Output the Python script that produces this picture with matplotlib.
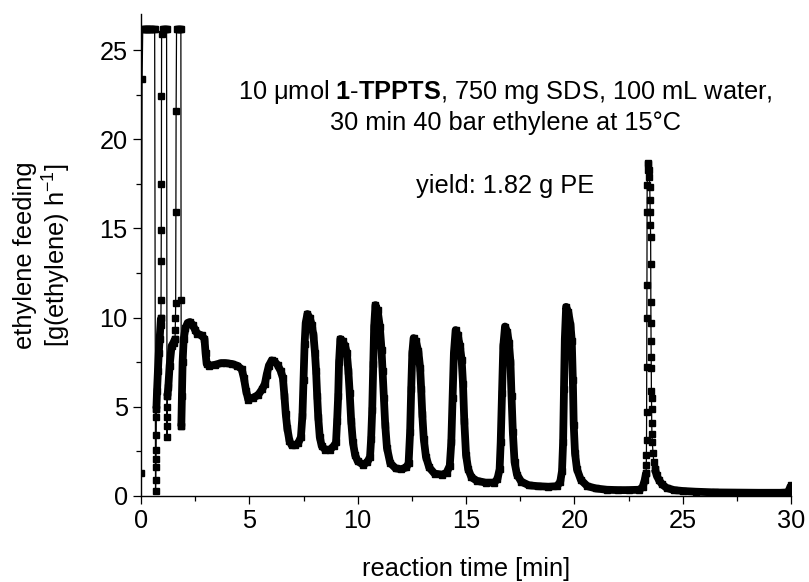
import numpy as np
import matplotlib
matplotlib.use("Agg")
import matplotlib.pyplot as plt
from matplotlib.ticker import MultipleLocator

plt.rcParams['font.family'] = ['Liberation Sans', 'DejaVu Sans']
plt.rcParams['mathtext.fontset'] = 'custom'
plt.rcParams['mathtext.rm'] = 'Liberation Sans'
plt.rcParams['mathtext.it'] = 'Liberation Sans:italic'
plt.rcParams['mathtext.bf'] = 'Liberation Sans:bold'

# ---------------- data (reaction time [min], ethylene feeding [g h^-1]) ----------------
# start-up spikes (saturated flow meter), sparse samples
spike1_t = [0.00, 0.05, 0.08, 0.13, 0.18, 0.23, 0.28, 0.33, 0.38, 0.43, 0.48, 0.53, 0.58, 0.63,
            0.67, 0.68, 0.685, 0.69, 0.695, 0.70, 0.705, 0.71]
spike1_y = [1.3, 23.4, 26.2, 26.2, 26.2, 26.2, 26.2, 26.2, 26.2, 26.2, 26.2, 26.2, 26.2, 26.2,
            0.3, 0.9, 1.6, 2.1, 2.6, 3.4, 4.4, 4.9]
rise1_t = [0.71, 0.74, 0.78, 0.82, 0.86, 0.90, 0.92]
rise1_y = [4.9, 5.9, 7.0, 8.0, 8.8, 9.6, 10.0]
spike2_t = [0.92, 0.925, 0.93, 0.935, 0.94, 0.945, 0.95, 1.00, 1.05, 1.10, 1.15, 1.18,
            1.20, 1.205, 1.21, 1.215, 1.22]
spike2_y = [10.0, 11.0, 13.2, 14.9, 17.5, 22.4, 25.9, 26.2, 26.2, 26.2, 26.2, 26.2,
            3.3, 3.9, 4.4, 5.0, 5.6]
rise2_t = [1.22, 1.26, 1.32, 1.41, 1.50, 1.57]
rise2_y = [5.6, 6.1, 7.3, 8.4, 8.6, 8.8]
spike3_t = [1.57, 1.58, 1.59, 1.60, 1.61, 1.62, 1.64, 1.69, 1.74, 1.79, 1.84, 1.85, 1.86]
spike3_y = [8.8, 9.3, 10.0, 10.8, 15.9, 21.6, 26.2, 26.2, 26.2, 26.2, 26.2, 11.0, 3.9]

# main feeding trace
trace_t = [1.86, 1.89, 1.92, 1.97, 2.05, 2.15, 2.26, 2.38, 2.50, 2.60, 2.80, 2.93, 2.98, 3.03,
           3.15, 3.40, 3.70, 3.90, 4.20, 4.45, 4.65, 4.75, 4.85, 4.95, 5.15, 5.40, 5.60, 5.72,
           5.80, 5.90, 6.03, 6.15, 6.30, 6.45, 6.55, 6.62, 6.68, 6.75, 6.85, 6.95, 7.10, 7.25,
           7.38, 7.45, 7.50, 7.55, 7.60, 7.68, 7.78, 7.88, 7.96, 8.03, 8.08, 8.13, 8.18, 8.25,
           8.34, 8.50, 8.72, 8.90, 9.00, 9.05, 9.10, 9.14, 9.20, 9.30, 9.42, 9.50, 9.57, 9.63,
           9.70, 9.78, 9.88, 10.00, 10.25, 10.45, 10.57, 10.62, 10.67, 10.72, 10.76, 10.82,
           10.92, 11.02, 11.10, 11.15, 11.21, 11.27, 11.35, 11.50, 11.75, 12.00, 12.25, 12.35,
           12.42, 12.47, 12.52, 12.58, 12.68, 12.80, 12.88, 12.93, 12.98, 13.05, 13.15, 13.30,
           13.55, 13.90, 14.10, 14.25, 14.32, 14.38, 14.44, 14.52, 14.62, 14.72, 14.80, 14.86,
           14.92, 15.00, 15.10, 15.25, 15.50, 15.90, 16.30, 16.45, 16.55, 16.60, 16.66, 16.72,
           16.80, 16.90, 16.98, 17.05, 17.10, 17.16, 17.24, 17.35, 17.55, 17.90, 18.30, 18.80,
           19.20, 19.35, 19.43, 19.48, 19.52, 19.56, 19.62, 19.72, 19.82, 19.88, 19.93, 19.97,
           20.03, 20.12, 20.30, 20.60, 21.00, 21.50, 22.00, 22.50, 23.00, 23.15, 23.25, 23.31]
trace_y = [3.9, 5.6, 7.5, 8.8, 9.4, 9.7, 9.75, 9.6, 9.3, 9.1, 9.0, 8.8, 8.0, 7.4,
           7.3, 7.35, 7.45, 7.45, 7.4, 7.3, 7.1, 6.6, 5.9, 5.4, 5.5, 5.65, 6.0, 6.3,
           6.8, 7.3, 7.6, 7.55, 7.35, 7.0, 6.6, 5.6, 4.6, 3.8, 3.1, 2.85, 2.85, 2.95,
           3.3, 4.5, 6.5, 8.5, 9.7, 10.2, 10.0, 9.6, 9.0, 8.0, 7.0, 5.6, 4.4, 3.3,
           2.8, 2.6, 2.6, 2.8, 3.0, 4.2, 5.6, 7.5, 8.8, 8.7, 8.4, 8.0, 7.0, 5.8,
           4.2, 3.0, 2.3, 1.95, 1.75, 1.9, 2.2, 3.2, 4.8, 7.4, 9.5, 10.7,
           10.4, 9.5, 8.2, 7.0, 5.5, 4.0, 2.7, 1.85, 1.55, 1.5, 1.6, 1.85,
           3.6, 6.0, 8.0, 8.85, 8.7, 8.1, 7.2, 6.0, 4.6, 3.2, 2.2, 1.6,
           1.25, 1.2, 1.3, 1.7, 3.0, 5.5, 8.0, 9.3, 9.0, 8.4, 7.6, 6.3,
           4.2, 2.3, 1.5, 1.05, 0.85, 0.75, 0.75, 0.95, 1.5, 3.0, 5.8, 8.4,
           9.5, 9.2, 8.6, 7.5, 5.6, 3.6, 1.9, 1.2, 0.8, 0.6, 0.55, 0.52,
           0.55, 0.8, 1.4, 3.0, 6.0, 8.8, 10.6, 10.3, 9.6, 8.7, 6.5, 4.0,
           2.4, 1.5, 0.9, 0.55, 0.42, 0.35, 0.33, 0.33, 0.35, 0.5, 0.9, 1.3]

# last sharp feeding peak (sparse samples)
peak_t = [23.31, 23.32, 23.325, 23.33, 23.335, 23.34, 23.345, 23.35, 23.355, 23.36,
          23.38, 23.40, 23.42, 23.44, 23.46, 23.48, 23.49, 23.50, 23.51,
          23.52, 23.525, 23.53, 23.535, 23.54, 23.545, 23.55, 23.555, 23.56, 23.565, 23.57,
          23.58, 23.60, 23.63, 23.67, 23.72]
peak_y = [1.3, 1.74, 2.3, 3.14, 4.73, 7.25, 9.96, 11.83, 15.94, 17.43,
          18.3, 18.65, 18.6, 18.3, 17.9, 17.3, 16.6, 15.9, 15.2,
          14.5, 13.0, 10.9, 9.7, 8.7, 7.8, 7.15, 5.9, 5.5, 4.9, 4.1,
          3.5, 3.0, 2.4, 1.9, 1.5]

# tail after the last peak
tail_t = [23.72, 23.80, 23.90, 24.05, 24.26, 24.60, 25.00, 25.60, 26.50, 27.50, 28.50,
          29.50, 29.85, 29.95, 30.00]
tail_y = [1.5, 1.15, 0.9, 0.65, 0.45, 0.33, 0.28, 0.24, 0.2, 0.19, 0.18,
          0.18, 0.2, 0.45, 0.6]

x_ticks = [0, 5, 10, 15, 20, 25, 30]
y_ticks = [0, 5, 10, 15, 20, 25]

# ---------------- figure ----------------
fig = plt.figure(figsize=(8.09, 5.82), dpi=100)
ax = fig.add_axes([0.1743, 0.1478, 0.8035, 0.8282])

thin = dict(color='black', lw=0.9, marker='s', ms=4.2, mec='black', mfc='black')
thick = dict(color='black', lw=5.6, marker='s', ms=4.6, mec='black', mfc='black',
             solid_joinstyle='round', solid_capstyle='butt')

for tt, yy in [(spike1_t, spike1_y), (spike2_t, spike2_y), (spike3_t, spike3_y), (peak_t, peak_y)]:
    ax.plot(tt, yy, **thin)
for tt, yy in [(rise1_t, rise1_y), (rise2_t, rise2_y), (trace_t, trace_y), (tail_t, tail_y)]:
    ax.plot(tt, yy, **thick)

ax.set_xlim(0, 30)
ax.set_ylim(0, 27.02)
ax.set_xticks(x_ticks)
ax.set_yticks(y_ticks)
ax.xaxis.set_minor_locator(MultipleLocator(2.5))
ax.yaxis.set_minor_locator(MultipleLocator(2.5))

for s in ['top', 'right']:
    ax.spines[s].set_visible(False)
for s in ['left', 'bottom']:
    ax.spines[s].set_linewidth(1.0)

ax.tick_params(which='major', direction='out', length=6, width=0.9, labelsize=18.3, pad=3.5)
ax.tick_params(which='minor', direction='out', length=3.8, width=0.9)

ax.set_xlabel('reaction time [min]', fontsize=18.3, labelpad=17)
ax.set_ylabel('ethylene feeding\n[g(ethylene) h$^{\\mathregular{-1}}$]', fontsize=18.3,
              labelpad=19, linespacing=1.15)

ax.text(16.8, 22.65, '10 \u03bcmol $\\mathbf{1}$-$\\mathbf{TPPTS}$, 750 mg SDS, 100 mL water,',
        fontsize=18.3, ha='center', va='center')
ax.text(16.8, 20.9, '30 min 40 bar ethylene at 15\u00b0C', fontsize=18.3, ha='center', va='center')
ax.text(16.8, 17.4, 'yield: 1.82 g PE', fontsize=18.3, ha='center', va='center')

fig.savefig('out.png', dpi=100)
